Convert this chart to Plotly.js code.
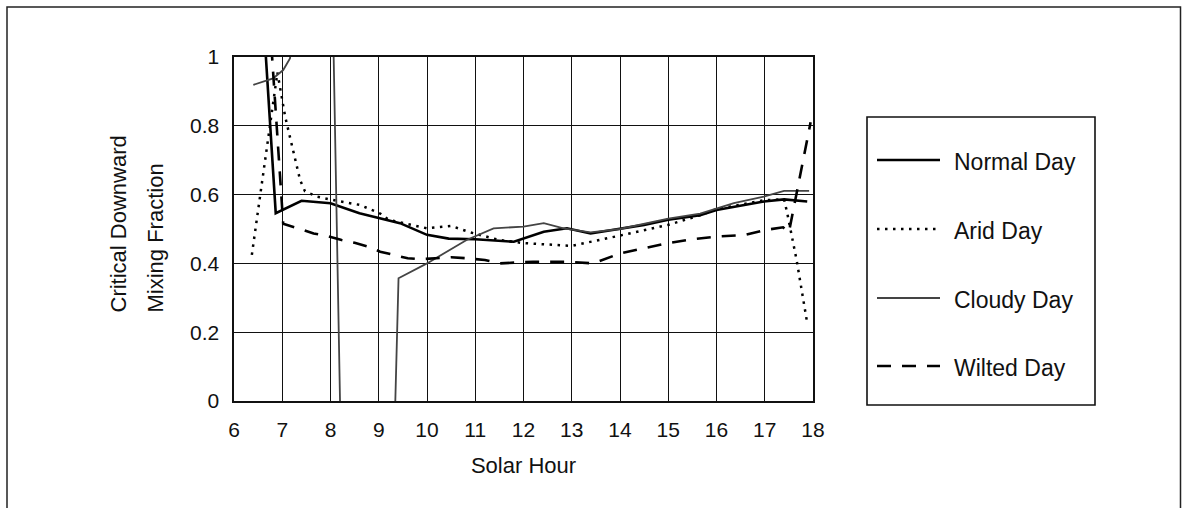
<!DOCTYPE html>
<html>
<head>
<meta charset="utf-8">
<script src="https://cdn.plot.ly/plotly-3.0.1.min.js"></script>
<style>
  html, body { margin: 0; padding: 0; background: #fff; }
  #chart { width: 1182px; height: 510px; }
</style>
</head>
<body>
<div id="chart"></div>
<script>
// critical downward mixing fraction vs solar hour, four day types
var normalHour = [6.4, 6.865, 7.4, 8.0, 8.6, 9.03, 9.44, 10.0, 10.45, 11.0, 11.5, 11.8, 12.42, 12.9, 13.39, 14.0, 14.5, 15.0, 15.66, 16.0, 16.5, 16.98, 17.4, 17.88];
var normalFrac = [1.58, 0.546, 0.582, 0.575, 0.546, 0.531, 0.517, 0.483, 0.472, 0.47, 0.465, 0.463, 0.492, 0.502, 0.487, 0.5, 0.512, 0.527, 0.54, 0.555, 0.567, 0.58, 0.586, 0.58];

var aridHour = [6.37, 6.54, 6.68, 6.78, 6.9, 7.06, 7.16, 7.27, 7.37, 7.47, 7.72, 8.13, 8.61, 9.03, 9.2, 10.0, 10.5, 10.9, 11.5, 12.0, 13.0, 13.9, 15.0, 15.66, 16.0, 17.0, 17.4, 17.46, 17.66, 17.87];
var aridFrac = [0.425, 0.594, 0.74, 0.846, 0.955, 0.827, 0.77, 0.70, 0.642, 0.61, 0.594, 0.582, 0.57, 0.545, 0.527, 0.502, 0.509, 0.49, 0.468, 0.459, 0.451, 0.478, 0.512, 0.54, 0.558, 0.584, 0.586, 0.55, 0.41, 0.235];

var cloudyHour = [6.4, 6.81, 7.02, 7.16, 7.5, 8.0, 8.25, 8.6, 9.0, 9.25, 9.41, 10.0, 10.82, 11.38, 12.0, 12.42, 12.83, 13.39, 14.0, 14.5, 15.0, 15.66, 16.0, 16.36, 16.98, 17.4, 17.92];
var cloudyFrac = [0.919, 0.938, 0.962, 0.996, 1.3, 1.5, -0.4, -1.5, -1.2, -0.5, 0.357, 0.40, 0.468, 0.502, 0.507, 0.517, 0.502, 0.49, 0.5, 0.515, 0.53, 0.545, 0.56, 0.575, 0.594, 0.611, 0.611];

var wiltedHour = [6.5, 7.02, 7.4, 7.65, 7.92, 8.23, 8.5, 8.77, 9.03, 9.31, 9.6, 9.86, 10.5, 10.82, 11.2, 11.5, 12.2, 12.9, 13.45, 14.0, 14.96, 15.5, 16.0, 16.6, 17.0, 17.38, 17.5, 17.95];
var wiltedFrac = [1.61, 0.515, 0.499, 0.487, 0.48, 0.468, 0.46, 0.449, 0.434, 0.424, 0.415, 0.412, 0.418, 0.415, 0.41, 0.40, 0.405, 0.405, 0.40, 0.429, 0.458, 0.47, 0.478, 0.483, 0.497, 0.505, 0.49, 0.81];

var seriesNames = ["Normal Day", "Arid Day", "Cloudy Day", "Wilted Day"];
var yTitleLines = ["Critical Downward", "Mixing Fraction"];

var FONT = "Liberation Sans, Arial, Helvetica, sans-serif";

var lineStyles = [
    {color: "#000", width: 2.6, dash: "solid"},
    {color: "#000", width: 2.5, dash: "2.5px,5.5px"},
    {color: "#444", width: 1.8, dash: "solid"},
    {color: "#000", width: 2.6, dash: "14px,11px"}
];

var xs = [normalHour, aridHour, cloudyHour, wiltedHour];
var ys = [normalFrac, aridFrac, cloudyFrac, wiltedFrac];

var data = seriesNames.map(function(name, i) {
    return {
        x: xs[i],
        y: ys[i],
        name: name,
        type: "scatter",
        mode: "lines",
        line: lineStyles[i],
        hoverinfo: "x+y+name"
    };
});

// pixel -> paper helpers (plot area is 234..813 x 57..401)
function px(x) { return (x - 234) / 579; }
function py(y) { return (401 - y) / 344; }

var shapes = [];
var annotations = [];

// outer frame (left, top, right)
shapes.push({
    type: "path", xref: "paper", yref: "paper",
    path: "M" + px(7) + "," + py(508) + " L" + px(7) + "," + py(7) +
          " L" + px(1180.5) + "," + py(7) + " L" + px(1180.5) + "," + py(508),
    line: {color: "#222", width: 1.5}
});

// legend box
shapes.push({
    type: "rect", xref: "paper", yref: "paper",
    x0: px(867), x1: px(1095), y0: py(405), y1: py(117),
    line: {color: "#111", width: 1.6}
});

var legendY = [162, 231, 300, 368];
seriesNames.forEach(function(name, i) {
    shapes.push({
        type: "line", xref: "paper", yref: "paper",
        x0: px(877), x1: px(940), y0: py(legendY[i] - 2), y1: py(legendY[i] - 2),
        line: {color: lineStyles[i].color, width: lineStyles[i].width, dash: lineStyles[i].dash}
    });
    annotations.push({
        xref: "paper", yref: "paper",
        x: px(952), y: py(legendY[i]),
        xanchor: "left", yanchor: "middle",
        text: name, showarrow: false,
        font: {family: FONT, size: 23, color: "#111"}
    });
});

// y axis title, two rotated lines sharing a bottom edge
var yTitleX = [118, 155];
yTitleLines.forEach(function(line, i) {
    annotations.push({
        xref: "paper", yref: "paper",
        x: px(yTitleX[i]), y: py(315),
        xanchor: "center", yanchor: "bottom",
        text: line, textangle: -90, showarrow: false,
        font: {family: FONT, size: 22, color: "#111"}
    });
});

var layout = {
    width: 1182,
    height: 510,
    margin: {l: 234, r: 369, t: 57, b: 109},
    paper_bgcolor: "#fff",
    plot_bgcolor: "#fff",
    showlegend: false,
    font: {family: FONT, color: "#111"},
    xaxis: {
        range: [6, 18],
        tick0: 6,
        dtick: 1,
        showgrid: true,
        gridcolor: "#111",
        gridwidth: 1,
        zeroline: false,
        showline: true,
        mirror: true,
        linecolor: "#111",
        linewidth: 1.6,
        ticks: "",
        ticklabelstandoff: 9,
        tickfont: {family: FONT, size: 21, color: "#111"},
        title: {text: "Solar Hour", font: {family: FONT, size: 22, color: "#111"}, standoff: 18}
    },
    yaxis: {
        range: [0, 1],
        tick0: 0,
        dtick: 0.2,
        showgrid: true,
        gridcolor: "#111",
        gridwidth: 1.3,
        zeroline: false,
        showline: true,
        mirror: true,
        linecolor: "#111",
        linewidth: 1.6,
        ticks: "",
        ticklabelstandoff: 9,
        tickfont: {family: FONT, size: 21, color: "#111"}
    },
    shapes: shapes,
    annotations: annotations
};

Plotly.newPlot("chart", data, layout, {displayModeBar: false, staticPlot: true});
</script>
</body>
</html>
